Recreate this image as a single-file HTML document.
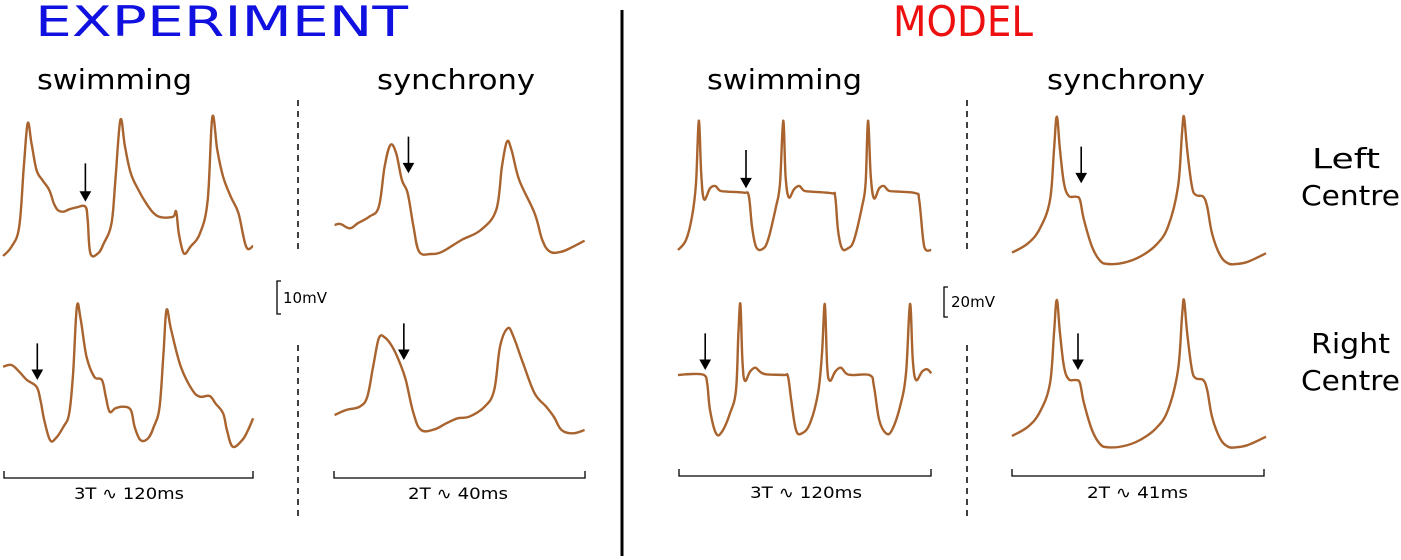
<!DOCTYPE html>
<html><head><meta charset="utf-8">
<style>
html,body{margin:0;padding:0;background:#fff;}
#wrap{position:relative;width:1401px;height:560px;overflow:hidden;font-family:"DejaVu Sans","Liberation Sans",sans-serif;}
svg{position:absolute;left:0;top:0;}
</style></head>
<body>
<div id="wrap">
<svg id="fig" width="1401" height="560" viewBox="0 0 1401 560">
  <text x="35" y="36" font-size="42" fill="#1010e0" textLength="373" lengthAdjust="spacingAndGlyphs">EXPERIMENT</text>
  <text x="893" y="36" font-size="42" fill="#ee1010" textLength="140" lengthAdjust="spacingAndGlyphs">MODEL</text>
  <text x="37" y="89" font-size="28" textLength="155" lengthAdjust="spacingAndGlyphs">swimming</text>
  <text x="377" y="89" font-size="28" textLength="158" lengthAdjust="spacingAndGlyphs">synchrony</text>
  <text x="707" y="89" font-size="28" textLength="155" lengthAdjust="spacingAndGlyphs">swimming</text>
  <text x="1047" y="89" font-size="28" textLength="158" lengthAdjust="spacingAndGlyphs">synchrony</text>
  <text x="1312" y="168" font-size="28" textLength="68" lengthAdjust="spacingAndGlyphs">Left</text>
  <text x="1301" y="205" font-size="28" textLength="99" lengthAdjust="spacingAndGlyphs">Centre</text>
  <text x="1311" y="353" font-size="28" textLength="79" lengthAdjust="spacingAndGlyphs">Right</text>
  <text x="1301" y="390" font-size="28" textLength="99" lengthAdjust="spacingAndGlyphs">Centre</text>
  <line x1="622" y1="10" x2="622" y2="556" stroke="#000" stroke-width="3"/>
  <g stroke="#000" stroke-width="1.5" stroke-dasharray="6,5">
    <line x1="298" y1="100" x2="298" y2="253"/><line x1="298" y1="345" x2="298" y2="520"/>
    <line x1="967" y1="100" x2="967" y2="253"/><line x1="967" y1="345" x2="967" y2="520"/>
  </g>
  <path d="M281,281 L277,281 L277,314 L281,314" fill="none" stroke="#000" stroke-width="1.3"/>
  <text x="283" y="303" font-size="15" textLength="44" lengthAdjust="spacingAndGlyphs">10mV</text>
  <path d="M948,287 L944,287 L944,317 L948,317" fill="none" stroke="#000" stroke-width="1.3"/>
  <text x="951" y="307" font-size="15" textLength="44" lengthAdjust="spacingAndGlyphs">20mV</text>
  <g fill="none" stroke="#000" stroke-width="1.3">
    <path d="M4,471 L4,478 L253,478 L253,471"/>
    <path d="M334,471 L334,478 L585,478 L585,471"/>
    <path d="M679,469 L679,476 L931,476 L931,469"/>
    <path d="M1012,469 L1012,476 L1264,476 L1264,469"/>
  </g>
  <text x="74" y="499" font-size="16" textLength="110" lengthAdjust="spacingAndGlyphs">3T ∿ 120ms</text>
  <text x="408" y="499" font-size="16" textLength="100" lengthAdjust="spacingAndGlyphs">2T ∿ 40ms</text>
  <text x="750" y="498" font-size="16" textLength="112" lengthAdjust="spacingAndGlyphs">3T ∿ 120ms</text>
  <text x="1087" y="498" font-size="16" textLength="101" lengthAdjust="spacingAndGlyphs">2T ∿ 41ms</text>
  <g id="traces"></g>
</svg>
</div>
<script>
// Trace samples: time (arbitrary units) and voltage (arbitrary units, higher = lower on display)
const expSwimLeftT=[8,30,50,62,72,82,95,110,128,140,150,165,180,200,222,228,235,255,270,290,300,313,325,340,360,380,400,420,450,458,465,478,495,520,540,552,565,580,600,620,640,658];
const expSwimLeftV=[468,440,380,200,70,130,210,240,270,310,330,335,328,322,320,360,460,460,430,370,240,60,140,220,270,310,340,352,350,335,400,460,440,400,300,52,150,230,290,340,440,438];
const expSyncLeftT=[870,885,910,930,960,985,1000,1015,1030,1045,1060,1075,1090,1120,1150,1200,1250,1290,1305,1318,1330,1350,1390,1410,1430,1460,1490,1520];
const expSyncLeftV=[375,372,385,370,350,320,200,135,160,240,280,380,455,462,455,420,390,330,200,125,150,240,340,420,455,455,440,422];
const expSwimRightT=[8,30,50,70,95,105,115,130,145,165,180,190,200,210,225,245,265,275,285,300,320,340,350,365,385,400,415,425,433,445,470,500,520,545,560,580,590,605,630,645,658];
const expSwimRightV=[800,795,815,840,860,900,960,1020,1015,980,940,820,620,660,770,830,840,890,935,925,920,930,980,1020,1015,980,920,760,630,690,800,870,890,888,910,940,990,1040,1020,990,955];
const expSyncRightT=[870,900,935,955,970,985,1000,1020,1040,1055,1075,1095,1130,1160,1190,1220,1260,1285,1300,1320,1335,1360,1390,1420,1440,1460,1490,1520];
const expSyncRightV=[945,930,920,890,800,715,712,740,790,840,940,990,988,970,955,950,920,870,740,685,710,790,880,920,950,990,1000,990];
const modSwimLeftT=[45,65,80,90,97,103,110,125,138,150,170,210,222,230,240,255,270,290,300,308,314,322,335,348,360,380,430,438,445,455,470,485,505,514,520,527,535,548,560,572,600,640,648,658,665,678];
const modSwimLeftV=[450,420,350,250,62,220,298,265,258,272,275,278,288,380,440,448,420,320,250,62,230,292,268,258,272,275,280,290,390,445,445,420,320,250,62,230,295,265,258,272,275,280,300,420,450,450];
const modSwimRightT=[45,80,110,118,125,140,155,175,190,196,201,206,212,225,238,250,265,310,320,328,340,355,375,395,405,412,418,425,438,452,465,480,525,535,548,565,580,600,615,625,632,640,655,668,678];
const modSwimRightV=[825,822,825,850,930,1000,995,940,870,700,612,780,842,815,803,815,823,825,830,900,990,1000,970,880,760,612,800,842,815,803,820,825,826,860,960,1000,990,920,820,612,780,840,815,808,820];
const modSyncLeftT=[880,920,950,975,985,992,1000,1010,1022,1040,1050,1060,1080,1100,1120,1160,1200,1240,1270,1295,1305,1310,1318,1330,1340,1358,1368,1380,1400,1420,1440,1470,1515];
const modSyncLeftV=[458,430,385,300,150,50,150,250,288,290,300,360,440,482,492,488,470,435,380,260,100,50,150,260,285,290,320,400,465,490,492,485,460];
const modSyncRightT=[880,920,950,975,985,992,1000,1010,1022,1040,1050,1060,1080,1100,1120,1160,1200,1240,1270,1295,1305,1310,1318,1330,1340,1358,1368,1380,1400,1420,1440,1470,1515];
const modSyncRightV=[1008,980,935,850,700,600,700,800,838,840,850,910,990,1032,1042,1038,1020,985,930,810,650,600,700,810,835,840,870,950,1015,1040,1042,1035,1010];
// Arrow markers: time, start voltage, end voltage
const expArrowT=[222,1062,97,1050];
const expArrowV0=[190,110,730,670];
const expArrowV1=[300,215,835,775];
const modArrowT=[215,1053,113,1045];
const modArrowV0=[150,140,700,700];
const modArrowV1=[260,245,805,805];

// axis functions
const expX=t=>t/2.6, expY=v=>100+v/3;
const modX=t=>660+t/2.5, modY=v=>100+v/3;

const NS='http://www.w3.org/2000/svg';
const g=document.getElementById('traces');
function trace(T,V,fx,fy,name){
  const P=T.map((t,i)=>[fx(t),fy(V[i])]);
  let d='M'+P[0][0].toFixed(1)+','+P[0][1].toFixed(1);
  const k=0.18;
  for(let i=0;i<P.length-1;i++){
    const p0=P[Math.max(0,i-1)],p1=P[i],p2=P[i+1],p3=P[Math.min(P.length-1,i+2)];
    const c1=[p1[0]+(p2[0]-p0[0])*k,p1[1]+(p2[1]-p0[1])*k];
    const c2=[p2[0]-(p3[0]-p1[0])*k,p2[1]-(p3[1]-p1[1])*k];
    d+=`C${c1[0].toFixed(1)},${c1[1].toFixed(1)} ${c2[0].toFixed(1)},${c2[1].toFixed(1)} ${p2[0].toFixed(1)},${p2[1].toFixed(1)}`;
  }
  const p=document.createElementNS(NS,'path');
  p.setAttribute('d',d);
  p.setAttribute('fill','none');
  p.setAttribute('stroke','#a8632e');
  p.setAttribute('stroke-width','2.4');
  p.setAttribute('stroke-linejoin','round');
  
  
  g.appendChild(p);
}
trace(expSwimLeftT,expSwimLeftV,expX,expY,'exp-swim-left-trace');
trace(expSyncLeftT,expSyncLeftV,expX,expY,'exp-sync-left-trace');
trace(expSwimRightT,expSwimRightV,expX,expY,'exp-swim-right-trace');
trace(expSyncRightT,expSyncRightV,expX,expY,'exp-sync-right-trace');
trace(modSwimLeftT,modSwimLeftV,modX,modY,'model-swim-left-trace');
trace(modSwimRightT,modSwimRightV,modX,modY,'model-swim-right-trace');
trace(modSyncLeftT,modSyncLeftV,modX,modY,'model-sync-left-trace');
trace(modSyncRightT,modSyncRightV,modX,modY,'model-sync-right-trace');
function arrows(T,V0,V1,fx,fy){
  T.forEach((t,i)=>{
    const x=fx(t),y0=fy(V0[i]),y1=fy(V1[i]);
    const a=document.createElementNS(NS,'path');
    a.setAttribute('d',`M${x},${y0}L${x},${y1-6}M${x-4.5},${y1-8}L${x+4.5},${y1-8}L${x},${y1}Z`);
    a.setAttribute('stroke','#000');
    a.setAttribute('stroke-width','1.6');
    a.setAttribute('fill','#000');
    
    
    g.appendChild(a);
  });
}
arrows(expArrowT,expArrowV0,expArrowV1,expX,expY);
arrows(modArrowT,modArrowV0,modArrowV1,modX,modY);
</script>
</body></html>
